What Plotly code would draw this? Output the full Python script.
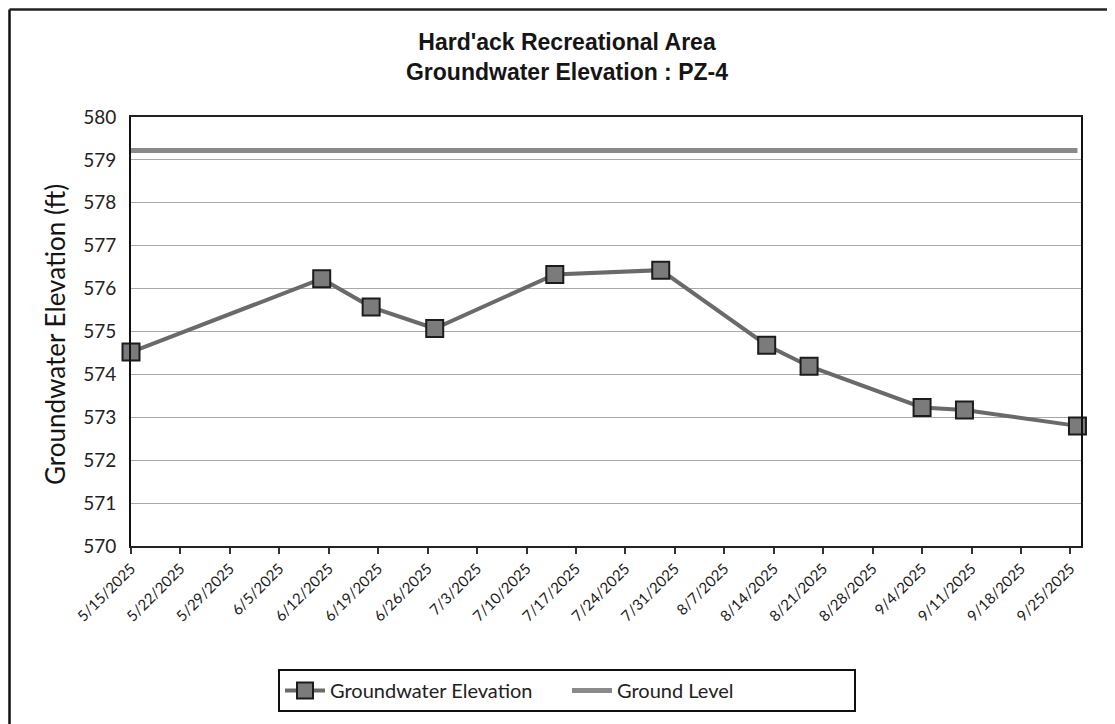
import plotly.graph_objects as go

# ---- data ----
dates = ["2025-05-15", "2025-06-11", "2025-06-18", "2025-06-27", "2025-07-14",
         "2025-07-29", "2025-08-13", "2025-08-19", "2025-09-04", "2025-09-10",
         "2025-09-26"]
gw_elev = [574.52, 576.23, 575.57, 575.07, 576.33, 576.43, 574.68, 574.19,
           573.23, 573.17, 572.80]
ground_level = [579.22] * len(dates)

title_lines = ["Hard'ack Recreational Area", "Groundwater Elevation : PZ-4"]
y_title = "Groundwater Elevation (ft)"

OFF = 8  # page body margin
W, H = 1115 - OFF, 724 - OFF
L, R, T, B = 131 - OFF, 1081 - OFF, 117 - OFF, 546 - OFF  # plot area in figure px

def px(x):  # window pixel -> paper
    return (x - OFF - L) / (R - L)

def py(y):
    return (B - (y - OFF)) / (B - T)

fig = go.Figure()
fig.add_trace(go.Scatter(
    x=dates, y=gw_elev, name="Groundwater Elevation", mode="lines+markers",
    line=dict(color="#6a6a6a", width=4),
    marker=dict(symbol="square", size=17, color="#7b7b7b",
                line=dict(color="#1c1c1c", width=2)),
    cliponaxis=False,
))
fig.add_trace(go.Scatter(
    x=dates, y=ground_level, name="Ground Level", mode="lines",
    line=dict(color="#8a8a8a", width=5),
))

fig.update_layout(
    width=W, height=H,
    margin=dict(l=L, r=W - R, t=T, b=H - B),
    paper_bgcolor="white", plot_bgcolor="white",
    showlegend=True,
    title=dict(text="<b>" + "<br>".join(title_lines) + "</b>",
               x=px(567), xref="paper", xanchor="center",
               y=1 - (50 - OFF) / H, yanchor="middle",
               font=dict(family="Liberation Sans, Arial", size=23, color="#151515")),
    legend=dict(orientation="h", x=px(567), xanchor="center",
                y=py(669), yanchor="top",
                bordercolor="#111", borderwidth=2,
                font=dict(family="Lato, Open Sans", size=20, color="#222"),
                entrywidth=232, itemwidth=40),
    xaxis=dict(
        type="date",
        range=["2025-05-15", "2025-09-26 12:00"],
        tick0="2025-05-15", dtick=7 * 24 * 3600 * 1000,
        tickformat="%-m/%-d/%Y", tickangle=-45,
        ticks="outside", ticklen=6, tickcolor="#333", tickwidth=1.5,
        showgrid=False, zeroline=False,
        showline=True, linecolor="#222", linewidth=2, mirror=True,
        tickfont=dict(family="Lato, Open Sans", size=15, color="#1a1a1a"),
    ),
    yaxis=dict(
        range=[570, 580], dtick=1, tick0=570,
        showgrid=True, gridcolor="#a9a9a9", gridwidth=1.2,
        zeroline=False,
        showline=True, linecolor="#111", linewidth=2, mirror=True,
        ticks="", ticklabelstandoff=9,
        tickfont=dict(family="Lato, Open Sans", size=19, color="#222"),
    ),
    annotations=[dict(
        text=y_title, textangle=-90, xref="paper", yref="paper",
        x=px(55), y=py(335), xanchor="center", yanchor="middle",
        showarrow=False,
        font=dict(family="Lato, Open Sans", size=26, color="#151515"),
    )],
    shapes=[
        dict(type="line", xref="paper", yref="paper",
             x0=px(9.5), x1=px(9.5), y0=py(724), y1=py(9.5),
             line=dict(color="#111", width=2.5)),
        dict(type="line", xref="paper", yref="paper",
             x0=px(9.5), x1=px(1115), y0=py(9.5), y1=py(9.5),
             line=dict(color="#222", width=2.5)),
    ],
)

fig.write_html("out.html")
